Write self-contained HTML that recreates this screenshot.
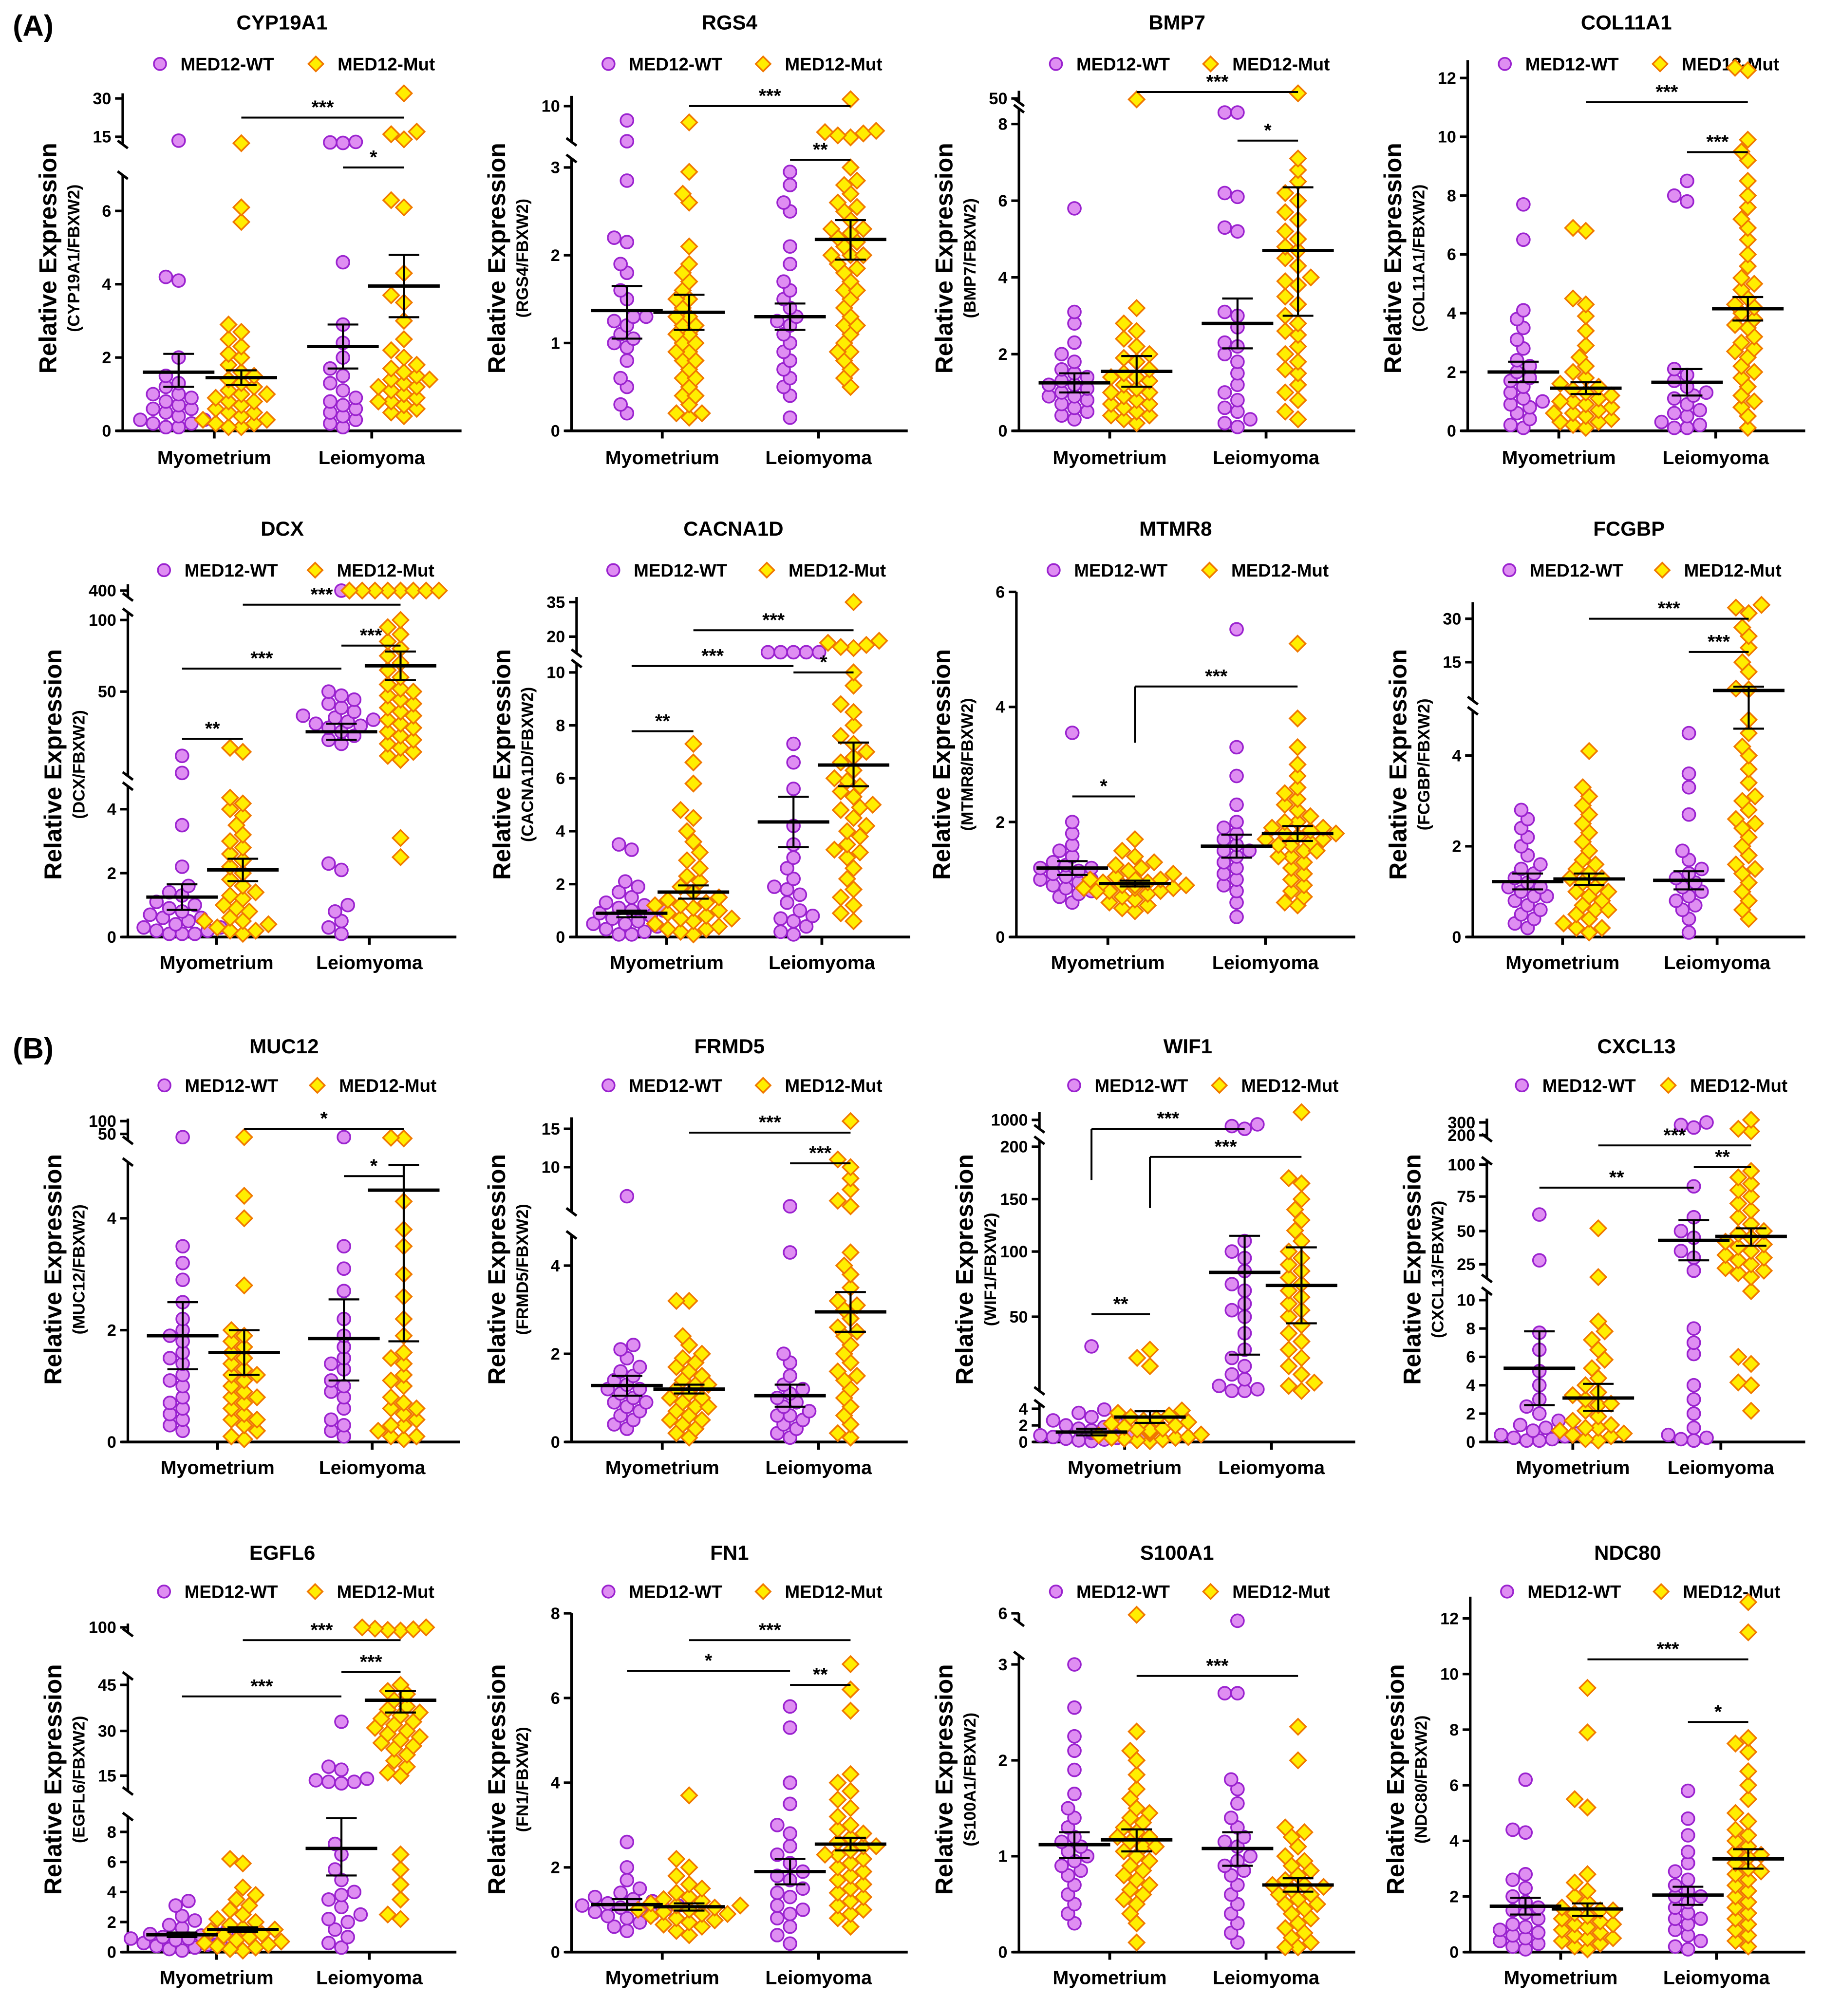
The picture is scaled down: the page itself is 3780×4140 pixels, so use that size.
<!DOCTYPE html>
<html><head><meta charset="utf-8">
<style>
html,body{margin:0;padding:0;background:#fff;}
svg{display:block;}
text{font-family:"Liberation Sans",Arial,sans-serif;fill:#000;}
</style></head>
<body>
<svg id="fig" xmlns="http://www.w3.org/2000/svg" width="3780" height="4140" viewBox="0 0 1440 1577" preserveAspectRatio="none">
<rect x="0" y="0" width="1440" height="1577" fill="#fff"/>
<text x="10" y="28" font-size="23" font-weight="bold">(A)</text>
<text x="10" y="828" font-size="23" font-weight="bold">(B)</text>
</svg>
<script>
// ===== DATA =====
const CYP19A1_WT_MYO=[13.5,4.2,4.1,2.0,1.5,1.3,1.2,1.0,0.9,0.8,0.7,0.6,0.5,0.4,0.3,0.2,0.1,1.0,0.6,0.3,0.2,0.1];
const CYP19A1_MUT_MYO=[12.5,6.1,5.7,2.9,2.7,2.5,2.3,2.1,2.0,1.8,1.6,1.5,1.4,1.3,1.2,1.1,1.0,0.9,0.8,0.7,0.6,0.5,0.4,0.3,0.2,0.1,1.0,0.8,0.5,0.3,0.2,0.1];
const CYP19A1_WT_LEIO=[13,12.8,12.6,4.6,2.9,2.4,2.0,1.7,1.5,1.3,1.1,0.9,0.8,0.6,0.5,0.3,0.2,0.1,0.4,0.7];
const CYP19A1_MUT_LEIO=[32,17,16,14,6.3,6.1,4.3,3.7,3.5,3.0,2.5,2.2,2.0,1.8,1.6,1.5,1.4,1.3,1.2,1.1,1.0,0.9,0.8,0.7,0.6,0.5,0.4,1.7,1.4,1.2,0.8];
const CYP19A1_MEAN=[1.6,1.45,2.3,3.95], CYP19A1_LO=[1.2,1.25,1.7,3.1], CYP19A1_HI=[2.1,1.65,2.9,4.8];
const CYP19A1_TICKS=[0,2,4,6,15,30];

const RGS4_WT_MYO=[7.8,4.6,2.85,2.2,2.15,1.9,1.8,1.6,1.5,1.3,1.25,1.2,1.1,1.0,0.95,0.8,0.6,0.5,0.3,0.2,1.3,1.05];
const RGS4_MUT_MYO=[7.5,2.95,2.7,2.6,2.1,1.9,1.8,1.7,1.6,1.5,1.5,1.4,1.3,1.3,1.2,1.1,1.0,1.0,0.9,0.8,0.8,0.7,0.6,0.5,0.4,0.3,0.2,0.15,1.2,1.1,0.9,0.6,0.4,0.2];
const RGS4_WT_LEIO=[2.95,2.8,2.6,2.5,2.1,1.9,1.7,1.6,1.5,1.3,1.25,1.2,1.0,0.9,0.8,0.7,0.6,0.5,0.4,0.15,1.4,1.1];
const RGS4_MUT_LEIO=[11,6.2,6.0,5.8,5.5,5.2,3.0,2.85,2.8,2.7,2.6,2.55,2.5,2.4,2.3,2.25,2.2,2.15,2.1,2.0,2.0,1.9,1.85,1.8,1.7,1.6,1.5,1.4,1.3,1.2,1.1,1.0,0.9,0.8,0.7,0.6,0.5,2.3,2.0,1.6,1.2,0.9];
const RGS4_MEAN=[1.37,1.35,1.3,2.18], RGS4_LO=[1.05,1.15,1.15,1.95], RGS4_HI=[1.65,1.55,1.45,2.4];
const RGS4_TICKS=[0,1,2,3,10];

const BMP7_WT_MYO=[5.8,3.1,2.8,2.3,2.0,1.8,1.6,1.5,1.4,1.3,1.2,1.1,1.0,0.9,0.8,0.7,0.6,0.5,0.4,0.3,1.2,0.9];
const BMP7_MUT_MYO=[49.5,3.2,2.8,2.6,2.4,2.2,2.0,1.9,1.8,1.6,1.5,1.4,1.3,1.2,1.1,1.0,0.9,0.8,0.7,0.6,0.5,0.4,0.3,0.2,1.4,1.0,0.7,0.4];
const BMP7_WT_LEIO=[8.3,8.3,6.2,6.1,5.3,5.2,3.1,3.0,2.7,2.3,2.0,1.8,1.5,1.2,1.0,0.8,0.5,0.3,0.2,0.1,2.2,0.6];
const BMP7_MUT_LEIO=[52,7.1,6.8,6.5,6.2,6.0,5.7,5.5,5.2,5.0,4.8,4.5,4.3,4.0,3.8,3.5,3.3,3.0,2.8,2.5,2.2,2.0,1.8,1.5,1.2,1.0,0.8,0.5,0.3,4.7,3.9,2.6,1.6];
const BMP7_MEAN=[1.25,1.55,2.8,4.7], BMP7_LO=[1.0,1.15,2.15,3.0], BMP7_HI=[1.5,1.95,3.45,6.35];
const BMP7_TICKS=[0,2,4,6,8,50];

const COL11A1_WT_MYO=[7.7,6.5,4.1,3.8,3.5,3.1,2.8,2.4,2.2,2.0,1.8,1.5,1.3,1.1,1.0,0.8,0.6,0.4,0.2,0.1,1.7,0.9];
const COL11A1_MUT_MYO=[6.8,6.9,4.5,4.3,3.9,3.4,2.9,2.5,2.2,2.0,1.8,1.6,1.5,1.4,1.3,1.2,1.1,1.0,0.9,0.8,0.7,0.6,0.5,0.4,0.3,0.2,0.1,1.0,0.6,0.3];
const COL11A1_WT_LEIO=[8.5,8.0,7.8,2.1,1.9,1.7,1.5,1.3,1.1,0.9,0.7,0.5,0.3,0.2,0.1,0.1,1.2,0.6];
const COL11A1_MUT_LEIO=[12.4,12.3,9.9,9.5,9.2,8.5,8.0,7.6,7.2,6.9,6.5,6.0,5.6,5.2,5.0,4.8,4.5,4.2,4.0,3.8,3.5,3.2,3.0,2.8,2.5,2.2,2.0,1.8,1.5,1.2,1.0,0.8,0.5,0.1,4.3,3.6,2.7];
const COL11A1_MEAN=[2.0,1.45,1.65,4.15], COL11A1_LO=[1.65,1.25,1.2,3.75], COL11A1_HI=[2.35,1.65,2.1,4.55];
const COL11A1_TICKS=[0,2,4,6,8,10,12];

const DCX_WT_MYO=[18,9.5,3.5,2.2,1.6,1.3,1.1,1.0,0.9,0.8,0.7,0.6,0.5,0.4,0.3,0.2,0.1,0.1,1.4,0.6,0.3,0.2,0.1];
const DCX_MUT_MYO=[22,20,4.4,4.2,4.0,3.8,3.5,3.2,3.0,2.8,2.6,2.4,2.2,2.0,1.8,1.6,1.4,1.2,1.0,0.8,0.6,0.5,0.4,0.3,0.2,0.1,1.3,0.9,0.5,0.2];
const DCX_WT_LEIO=[400,50,48,46,44,42,40,38,37,36,35,34,33,32,30,28,26,24,2.3,2.1,1.0,0.8,0.5,0.3,0.1];
const DCX_MUT_LEIO=[400,400,400,400,400,400,400,400,100,95,90,85,80,75,70,65,60,55,52,50,48,46,44,42,40,38,36,34,32,30,28,26,24,22,20,18,16,3.1,2.5];
const DCX_MEAN=[1.25,2.1,30,68], DCX_LO=[0.85,1.75,26,58], DCX_HI=[1.65,2.45,34,78];
const DCX_TICKS=[0,2,4,50,100,400];

const CACNA1D_WT_MYO=[3.5,3.3,2.1,1.9,1.7,1.5,1.3,1.2,1.1,1.0,0.9,0.8,0.7,0.6,0.5,0.4,0.3,0.2,0.1,0.1,1.0,0.5];
const CACNA1D_MUT_MYO=[7.3,6.6,5.8,4.8,4.5,4.0,3.6,3.2,2.9,2.6,2.3,2.1,1.9,1.7,1.5,1.4,1.3,1.2,1.1,1.0,0.9,0.8,0.7,0.6,0.5,0.4,0.3,0.2,0.1,1.2,0.7,0.3];
const CACNA1D_WT_LEIO=[12.5,12.5,12.5,12.5,12.5,7.3,6.6,5.6,4.2,3.5,3.0,2.6,2.2,1.9,1.6,1.3,1.0,0.8,0.6,0.4,0.2,0.1,1.8,0.7];
const CACNA1D_MUT_LEIO=[35,18,17,16,15,14.5,10,9.5,8.8,8.5,8.0,7.6,7.3,7.0,6.8,6.6,6.3,6.0,5.7,5.5,5.3,5.0,4.8,4.5,4.2,4.0,3.8,3.5,3.2,3.0,2.6,2.2,1.8,1.5,1.2,0.9,0.6,5.9,4.9,3.3];
const CACNA1D_MEAN=[0.9,1.7,4.35,6.5], CACNA1D_LO=[0.75,1.45,3.4,5.7], CACNA1D_HI=[1.0,1.95,5.3,7.35];
const CACNA1D_TICKS=[0,2,4,6,8,10,20,35];

const MTMR8_WT_MYO=[3.55,2.0,1.8,1.6,1.5,1.4,1.3,1.25,1.2,1.15,1.1,1.05,1.0,0.95,0.9,0.85,0.8,0.75,0.7,0.6,1.2,1.0];
const MTMR8_MUT_MYO=[1.7,1.5,1.4,1.3,1.25,1.2,1.15,1.1,1.05,1.0,1.0,0.95,0.95,0.9,0.9,0.85,0.85,0.8,0.8,0.75,0.7,0.65,0.6,0.55,0.5,0.45,1.0,0.9,0.85,0.8];
const MTMR8_WT_LEIO=[5.35,3.3,2.8,2.3,2.0,1.9,1.8,1.7,1.6,1.5,1.4,1.3,1.2,1.1,1.0,0.9,0.8,0.6,0.35,1.5];
const MTMR8_MUT_LEIO=[5.1,3.8,3.3,3.0,2.8,2.6,2.5,2.4,2.3,2.2,2.1,2.0,2.0,1.9,1.9,1.8,1.8,1.7,1.7,1.6,1.6,1.5,1.5,1.4,1.4,1.3,1.2,1.1,1.0,0.9,0.8,0.7,0.6,0.55,1.85,1.75,1.65];
const MTMR8_MEAN=[1.2,0.93,1.58,1.8], MTMR8_LO=[1.08,0.88,1.38,1.67], MTMR8_HI=[1.32,0.98,1.78,1.93];
const MTMR8_TICKS=[0,2,4,6];

const FCGBP_WT_MYO=[2.8,2.6,2.4,2.2,2.0,1.8,1.6,1.5,1.4,1.3,1.2,1.1,1.0,0.9,0.8,0.7,0.6,0.5,0.4,0.3,0.2,1.1,0.9];
const FCGBP_MUT_MYO=[4.1,3.3,3.1,2.9,2.7,2.5,2.3,2.1,1.9,1.7,1.6,1.5,1.4,1.3,1.2,1.1,1.0,0.9,0.8,0.7,0.6,0.5,0.4,0.3,0.2,0.1,1.3,1.0,0.6,0.2];
const FCGBP_WT_LEIO=[4.5,3.6,3.3,2.7,1.9,1.7,1.5,1.3,1.2,1.1,1.0,0.9,0.8,0.6,0.4,0.1,1.4,0.7];
const FCGBP_MUT_LEIO=[35,34,32,27,24,20,15,13,9.5,9.3,4.8,4.5,4.2,4.0,3.7,3.4,3.1,2.8,2.6,2.4,2.2,2.0,1.8,1.6,1.4,1.2,1.0,0.8,0.6,0.4,3.0,2.5,1.5];
const FCGBP_MEAN=[1.22,1.28,1.25,9.1], FCGBP_LO=[1.05,1.15,1.05,4.6], FCGBP_HI=[1.4,1.4,1.45,9.9];
const FCGBP_TICKS=[0,2,4,15,30];

const MUC12_WT_MYO=[45,3.5,3.2,2.9,2.5,2.2,2.0,1.8,1.6,1.4,1.2,1.0,0.8,0.6,0.5,0.4,0.3,1.9,1.5,1.1,0.7,0.2];
const MUC12_MUT_MYO=[45,4.4,4.0,2.8,2.0,1.9,1.8,1.7,1.6,1.5,1.4,1.3,1.2,1.1,1.0,0.9,0.8,0.7,0.6,0.5,0.4,0.3,0.2,0.1,0.05,1.2,0.8,0.4];
const MUC12_WT_LEIO=[45,3.5,3.1,2.7,2.2,1.9,1.7,1.5,1.3,1.1,1.0,0.8,0.6,0.4,0.3,0.2,0.1,1.4,0.9];
const MUC12_MUT_LEIO=[44,43,4.3,3.8,3.5,3.0,2.6,2.2,1.9,1.6,1.4,1.2,1.0,0.8,0.7,0.6,0.5,0.4,0.3,0.2,0.1,0.05,1.5,1.1,0.6,0.3,0.1];
const MUC12_MEAN=[1.9,1.6,1.85,4.5], MUC12_LO=[1.3,1.2,1.1,1.8], MUC12_HI=[2.5,2.0,2.55,4.95];
const MUC12_TICKS=[0,2,4,50,100];

const FRMD5_WT_MYO=[7.4,2.2,2.1,1.9,1.7,1.5,1.4,1.3,1.2,1.1,1.0,0.9,0.8,0.7,0.6,0.5,0.4,0.3,1.6,1.2,0.9];
const FRMD5_MUT_MYO=[3.2,3.2,2.4,2.2,2.0,1.9,1.8,1.7,1.6,1.5,1.4,1.3,1.2,1.1,1.0,0.9,0.8,0.7,0.6,0.5,0.4,0.3,0.2,0.1,1.3,1.0,0.8,0.5];
const FRMD5_WT_LEIO=[6.5,4.3,2.0,1.8,1.5,1.3,1.1,1.0,0.9,0.8,0.7,0.6,0.5,0.4,0.3,0.2,0.1,1.2,0.6];
const FRMD5_MUT_LEIO=[16,11,10,9,8,7,6.5,4.3,4.0,3.8,3.5,3.2,3.0,2.8,2.6,2.4,2.2,2.0,1.8,1.6,1.4,1.2,1.0,0.8,0.6,0.4,0.2,0.1,3.1,2.5,1.5];
const FRMD5_MEAN=[1.28,1.2,1.05,2.95], FRMD5_LO=[1.05,1.1,0.8,2.5], FRMD5_HI=[1.5,1.3,1.3,3.4];
const FRMD5_TICKS=[0,2,4,10,15];

const WIF1_WT_MYO=[32,3.9,3.5,3.0,2.6,2.2,2.0,1.8,1.6,1.4,1.2,1.0,0.8,0.6,0.5,0.4,0.3,0.2,0.1,1.1,0.7];
const WIF1_MUT_MYO=[30,25,20,3.8,3.5,3.2,3.0,2.8,2.6,2.4,2.2,2.0,1.8,1.6,1.4,1.2,1.0,0.8,0.6,0.5,0.4,0.3,0.2,0.1,1.5,0.9,0.5];
const WIF1_WT_LEIO=[950,930,900,110,100,95,85,75,70,60,55,50,40,30,25,20,15,12,8,6,5,5];
const WIF1_MUT_LEIO=[1100,170,165,150,140,130,120,110,100,95,90,85,80,75,70,65,60,55,50,45,40,35,30,25,20,15,10,8,5];
const WIF1_MEAN=[1.2,3.0,84,74], WIF1_LO=[0.8,2.3,27,46], WIF1_HI=[1.6,3.7,115,104];
const WIF1_TICKS=[0,2,4,50,100,150,200,1000];

const CXCL13_WT_MYO=[62,28,7.7,6.5,5.0,4.0,3.0,2.5,2.0,1.5,1.2,1.0,0.8,0.6,0.4,0.2,0.1,0.5,0.3,0.1];
const CXCL13_MUT_MYO=[52,15,8.5,7.8,7.2,6.5,5.8,5.2,4.5,4.0,3.5,3.0,2.6,2.2,1.8,1.5,1.2,1.0,0.8,0.6,0.4,0.2,0.1,3.3,2.7,1.0,0.5];
const CXCL13_WT_LEIO=[300,280,260,83,60,50,45,35,30,20,8,7,6.2,4,3,2,1,0.5,0.3,0.2,0.1];
const CXCL13_MUT_LEIO=[320,250,230,95,90,85,80,75,70,65,60,55,50,48,45,42,40,38,35,32,30,28,25,22,20,18,15,12,6,5.5,4.2,4.0,2.2];
const CXCL13_MEAN=[5.2,3.1,43,46], CXCL13_LO=[2.6,2.2,28,39], CXCL13_HI=[7.8,4.1,58,52];
const CXCL13_TICKS=[0,2,4,6,8,10,25,50,75,100,200,300];

const EGFL6_WT_MYO=[3.4,3.1,2.4,2.1,1.8,1.6,1.4,1.2,1.1,1.0,0.9,0.8,0.7,0.6,0.5,0.4,0.3,0.2,0.1,1.3,0.9];
const EGFL6_MUT_MYO=[6.2,5.9,4.3,3.8,3.5,3.1,2.8,2.5,2.2,2.0,1.8,1.6,1.4,1.2,1.0,0.8,0.6,0.5,0.4,0.3,0.2,0.1,1.5,1.1,0.7];
const EGFL6_WT_LEIO=[33,18,17,14,13.5,13,13,12.5,7.2,6.5,5.5,4.8,4.0,3.5,3.0,2.5,2.0,1.5,1.0,0.6,0.3,3.8,2.2];
const EGFL6_MUT_LEIO=[100,100,98,97,96,95,45,43,42,40,38,37,36,35,34,33,32,31,30,29,28,27,26,25,24,22,20,18,16,15,6.5,5.5,4.5,3.5,2.5,2.2];
const EGFL6_MEAN=[1.15,1.5,6.9,40], EGFL6_LO=[1.0,1.35,5.1,36], EGFL6_HI=[1.3,1.65,8.9,43];
const EGFL6_TICKS=[0,2,4,6,8,15,30,45,100];

const FN1_WT_MYO=[2.6,2.0,1.7,1.5,1.4,1.3,1.25,1.2,1.15,1.1,1.05,1.0,0.95,0.9,0.85,0.8,0.7,0.6,0.5,1.1,1.0];
const FN1_MUT_MYO=[3.7,2.2,2.0,1.8,1.6,1.5,1.4,1.3,1.25,1.2,1.15,1.1,1.05,1.0,0.95,0.9,0.85,0.8,0.75,0.7,0.65,0.6,0.5,0.4,1.1,1.0,0.9];
const FN1_WT_LEIO=[5.8,5.3,4.0,3.5,3.0,2.8,2.5,2.3,2.1,1.9,1.7,1.5,1.3,1.1,1.0,0.9,0.8,0.6,0.4,0.2,1.8,1.4];
const FN1_MUT_LEIO=[6.8,6.2,5.7,4.2,4.0,3.8,3.6,3.4,3.2,3.0,2.9,2.8,2.7,2.6,2.5,2.4,2.3,2.2,2.1,2.0,1.9,1.8,1.7,1.6,1.5,1.4,1.3,1.2,1.1,1.0,0.9,0.8,0.6,2.5,2.3];
const FN1_MEAN=[1.12,1.07,1.9,2.55], FN1_LO=[1.0,0.98,1.6,2.4], FN1_HI=[1.25,1.15,2.2,2.7];
const FN1_TICKS=[0,2,4,6,8];

const S100A1_WT_MYO=[3.0,2.55,2.25,2.1,1.9,1.65,1.5,1.4,1.3,1.2,1.15,1.1,1.05,1.0,0.95,0.9,0.85,0.8,0.7,0.6,0.5,0.4,0.3];
const S100A1_MUT_MYO=[5.9,2.3,2.1,2.0,1.85,1.7,1.6,1.5,1.45,1.4,1.35,1.3,1.25,1.2,1.15,1.1,1.05,1.0,0.95,0.9,0.85,0.8,0.75,0.7,0.65,0.6,0.55,0.5,0.4,0.3,0.1,1.2,1.1];
const S100A1_WT_LEIO=[5.5,2.7,2.7,1.8,1.7,1.55,1.4,1.3,1.2,1.1,1.0,0.95,0.9,0.8,0.7,0.6,0.5,0.4,0.3,0.2,0.1,1.15,0.85];
const S100A1_MUT_LEIO=[2.35,2.0,1.3,1.25,1.2,1.1,1.0,0.95,0.9,0.85,0.8,0.75,0.7,0.68,0.65,0.6,0.55,0.5,0.45,0.4,0.35,0.3,0.25,0.2,0.15,0.1,0.05,0.05,0.7,0.6,0.5];
const S100A1_MEAN=[1.12,1.17,1.08,0.7], S100A1_LO=[0.98,1.05,0.9,0.63], S100A1_HI=[1.25,1.28,1.25,0.77];
const S100A1_TICKS=[0,1,2,3,6];

const NDC80_WT_MYO=[6.2,4.4,4.3,2.8,2.6,2.3,2.0,1.8,1.6,1.4,1.2,1.0,0.9,0.8,0.6,0.5,0.4,0.3,0.2,0.1,1.5,0.7];
const NDC80_MUT_MYO=[9.5,7.9,5.5,5.2,2.8,2.5,2.2,2.0,1.8,1.6,1.5,1.4,1.3,1.2,1.1,1.0,0.9,0.8,0.7,0.6,0.5,0.4,0.3,0.2,0.1,1.5,1.0,0.5];
const NDC80_WT_LEIO=[5.8,4.8,4.2,3.6,3.2,2.9,2.6,2.4,2.2,2.0,1.8,1.6,1.4,1.2,1.0,0.8,0.6,0.4,0.2,0.1,2.0,1.2];
const NDC80_MUT_LEIO=[12.6,11.5,7.7,7.5,7.2,6.5,6.0,5.5,5.0,4.7,4.4,4.2,4.0,3.8,3.6,3.4,3.2,3.0,2.8,2.6,2.4,2.2,2.0,1.8,1.6,1.4,1.2,1.0,0.8,0.6,0.4,0.2,3.5,2.9];
const NDC80_MEAN=[1.65,1.55,2.05,3.35], NDC80_LO=[1.35,1.3,1.7,3.0], NDC80_HI=[1.95,1.75,2.35,3.7];
const NDC80_TICKS=[0,2,4,6,8,10,12];

// ===== LAYOUT / SCALES (knots: [value, pixel height above baseline]) =====
const ROW_BASE=[337,733,1128,1527], ROW_TITLE=[23,419,824,1220], ROW_LEG=[55,451,854,1250], ROW_XLAB=[363,758,1153,1552];
const PANELS=[
 {n:'CYP19A1',r:0,x0:96,x1:361,segs:[[[0,0],[6,172],[7,200]],[[12,224],[15,230],[30,260],[32,264]]],t:CYP19A1_TICKS,g:[CYP19A1_WT_MYO,CYP19A1_MUT_MYO,CYP19A1_WT_LEIO,CYP19A1_MUT_LEIO],m:CYP19A1_MEAN,lo:CYP19A1_LO,hi:CYP19A1_HI,sig:[[1,3,245,'***'],[2,3,206,'*']]},
 {n:'RGS4',r:0,x0:447,x1:710,segs:[[[0,0],[3,206],[3.1,213]],[[4.5,226],[10,254],[11.5,262]]],t:RGS4_TICKS,g:[RGS4_WT_MYO,RGS4_MUT_MYO,RGS4_WT_LEIO,RGS4_MUT_LEIO],m:RGS4_MEAN,lo:RGS4_LO,hi:RGS4_HI,sig:[[1,3,254,'***'],[2,3,212,'**']]},
 {n:'BMP7',r:0,x0:797,x1:1060,segs:[[[0,0],[8,240],[8.4,252]],[[48,257],[50,260],[53,266]]],t:BMP7_TICKS,g:[BMP7_WT_MYO,BMP7_MUT_MYO,BMP7_WT_LEIO,BMP7_MUT_LEIO],m:BMP7_MEAN,lo:BMP7_LO,hi:BMP7_HI,sig:[[1,3,265,'***'],[2,3,227,'*']]},
 {n:'COL11A1',r:0,x0:1148,x1:1412,segs:[[[0,0],[12,276],[12.7,290]]],t:COL11A1_TICKS,g:[COL11A1_WT_MYO,COL11A1_MUT_MYO,COL11A1_WT_LEIO,COL11A1_MUT_LEIO],m:COL11A1_MEAN,lo:COL11A1_LO,hi:COL11A1_HI,sig:[[1,3,257,'***'],[2,3,218,'***']]},
 {n:'DCX',r:1,x0:100,x1:357,segs:[[[0,0],[4,100],[4.8,118]],[[8,126],[50,192],[100,248],[110,254]],[[380,266],[400,271],[420,276]]],t:DCX_TICKS,g:[DCX_WT_MYO,DCX_MUT_MYO,DCX_WT_LEIO,DCX_MUT_LEIO],m:DCX_MEAN,lo:DCX_LO,hi:DCX_HI,sig:[[0,1,155,'**'],[0,2,210,'***'],[1,3,260,'***'],[2,3,228,'***']]},
 {n:'CACNA1D',r:1,x0:451,x1:712,segs:[[[0,0],[10,207],[11,214]],[[12,222],[20,235],[35,262],[37,266]]],t:CACNA1D_TICKS,g:[CACNA1D_WT_MYO,CACNA1D_MUT_MYO,CACNA1D_WT_LEIO,CACNA1D_MUT_LEIO],m:CACNA1D_MEAN,lo:CACNA1D_LO,hi:CACNA1D_HI,sig:[[0,1,161,'**'],[0,2,212,'***'],[1,3,240,'***'],[2,3,207,'*']]},
 {n:'MTMR8',r:1,x0:795,x1:1060,segs:[[[0,0],[6,270]]],t:MTMR8_TICKS,g:[MTMR8_WT_MYO,MTMR8_MUT_MYO,MTMR8_WT_LEIO,MTMR8_MUT_LEIO],m:MTMR8_MEAN,lo:MTMR8_LO,hi:MTMR8_HI,sig:[[0,1,110,'*'],[1,3,196,'***',44]]},
 {n:'FCGBP',r:1,x0:1152,x1:1412,segs:[[[0,0],[4,142],[5,177]],[[7,185],[15,215],[30,249],[36,262]]],t:FCGBP_TICKS,g:[FCGBP_WT_MYO,FCGBP_MUT_MYO,FCGBP_WT_LEIO,FCGBP_MUT_LEIO],m:FCGBP_MEAN,lo:FCGBP_LO,hi:FCGBP_HI,sig:[[1,3,249,'***'],[2,3,223,'***']]},
 {n:'MUC12',r:2,x0:100,x1:360,segs:[[[0,0],[4,175],[5,219]],[[40,236],[50,241],[100,251],[105,253]]],t:MUC12_TICKS,g:[MUC12_WT_MYO,MUC12_MUT_MYO,MUC12_WT_LEIO,MUC12_MUT_LEIO],m:MUC12_MEAN,lo:MUC12_LO,hi:MUC12_HI,sig:[[1,3,245,'*'],[2,3,208,'*']]},
 {n:'FRMD5',r:2,x0:447,x1:710,segs:[[[0,0],[4,138],[4.7,162]],[[6,180],[10,215],[15,245],[16.5,254]]],t:FRMD5_TICKS,g:[FRMD5_WT_MYO,FRMD5_MUT_MYO,FRMD5_WT_LEIO,FRMD5_MUT_LEIO],m:FRMD5_MEAN,lo:FRMD5_LO,hi:FRMD5_HI,sig:[[1,3,242,'***'],[2,3,218,'***']]},
 {n:'WIF1',r:2,x0:813,x1:1060,segs:[[[0,0],[4,26],[4.6,30]],[[5,40],[50,98],[100,149],[150,190],[200,231],[210,236]],[[900,245],[1000,252],[1100,258]]],t:WIF1_TICKS,g:[WIF1_WT_MYO,WIF1_MUT_MYO,WIF1_WT_LEIO,WIF1_MUT_LEIO],m:WIF1_MEAN,lo:WIF1_LO,hi:WIF1_HI,sig:[[0,2,245,'***',40],[1,3,223,'***',40],[0,1,100,'**']]},
 {n:'CXCL13',r:2,x0:1163,x1:1412,segs:[[[0,0],[10,111],[11,118]],[[14,128],[25,139],[50,165],[75,192],[100,217],[103,220]],[[190,238],[200,240],[300,250],[330,253]]],t:CXCL13_TICKS,g:[CXCL13_WT_MYO,CXCL13_MUT_MYO,CXCL13_WT_LEIO,CXCL13_MUT_LEIO],m:CXCL13_MEAN,lo:CXCL13_LO,hi:CXCL13_HI,sig:[[0,2,199,'**'],[1,3,232,'***'],[2,3,215,'**']]},
 {n:'EGFL6',r:3,x0:100,x1:357,segs:[[[0,0],[8,94],[9,106]],[[10,126],[15,138],[30,173],[45,209],[48,216]],[[92,250],[100,254],[105,257]]],t:EGFL6_TICKS,g:[EGFL6_WT_MYO,EGFL6_MUT_MYO,EGFL6_WT_LEIO,EGFL6_MUT_LEIO],m:EGFL6_MEAN,lo:EGFL6_LO,hi:EGFL6_HI,sig:[[0,2,200,'***'],[1,3,244,'***'],[2,3,219,'***']]},
 {n:'FN1',r:3,x0:447,x1:710,segs:[[[0,0],[8,265]]],t:FN1_TICKS,g:[FN1_WT_MYO,FN1_MUT_MYO,FN1_WT_LEIO,FN1_MUT_LEIO],m:FN1_MEAN,lo:FN1_LO,hi:FN1_HI,sig:[[0,2,220,'*'],[1,3,244,'***'],[2,3,209,'**']]},
 {n:'S100A1',r:3,x0:797,x1:1060,segs:[[[0,0],[3,225],[3.1,232]],[[5.4,258],[6,265]]],t:S100A1_TICKS,g:[S100A1_WT_MYO,S100A1_MUT_MYO,S100A1_WT_LEIO,S100A1_MUT_LEIO],m:S100A1_MEAN,lo:S100A1_LO,hi:S100A1_HI,sig:[[1,3,216,'***']]},
 {n:'NDC80',r:3,x0:1150,x1:1412,segs:[[[0,0],[12,261],[12.8,278]]],t:NDC80_TICKS,g:[NDC80_WT_MYO,NDC80_MUT_MYO,NDC80_WT_LEIO,NDC80_MUT_LEIO],m:NDC80_MEAN,lo:NDC80_LO,hi:NDC80_HI,sig:[[1,3,229,'***'],[2,3,180,'*']]}
];
const GROUP_FRAC=[0.165,0.35,0.65,0.83];
const GROUP_NAMES=['wt-myometrium','mut-myometrium','wt-leiomyoma','mut-leiomyoma'];
const WT_FILL='#df8ef2', WT_STROKE='#9a22cf', MUT_FILL='#ffee00', MUT_STROKE='#f07800';

const NS='http://www.w3.org/2000/svg';
const svg=document.getElementById('fig');
function el(tag,attrs,parent,txt){const e=document.createElementNS(NS,tag);for(const k in attrs)e.setAttribute(k,attrs[k]);if(txt!==undefined)e.textContent=txt;(parent||svg).appendChild(e);return e;}

function heightOf(segs,v){
  let best=null;
  for(const s of segs){ if(v>=s[0][0]&&v<=s[s.length-1][0]){best=s;break;} }
  if(!best){
    let d=Infinity;
    for(const s of segs){const lo=s[0][0],hi=s[s.length-1][0];const dd=v<lo?lo-v:v-hi;if(dd<d){d=dd;best=s;}}
    if(v<best[0][0]) return best[0][1];
    return best[best.length-1][1];
  }
  for(let i=0;i<best.length-1;i++){const a=best[i],b=best[i+1];if(v>=a[0]&&v<=b[0]){return a[1]+(v-a[0])/(b[0]-a[0])*(b[1]-a[1]);}}
  return best[best.length-1][1];
}

function circle(g,x,y,r){return el('circle',{cx:x,cy:y,r:r,fill:WT_FILL,stroke:WT_STROKE,'stroke-width':1.3},g);}
function diamond(g,x,y,r){return el('polygon',{points:`${x},${y-r} ${x+r},${y} ${x},${y+r} ${x-r},${y}`,fill:MUT_FILL,stroke:MUT_STROKE,'stroke-width':1.3},g);}

PANELS.forEach((P)=>{
  const base=ROW_BASE[P.r];
  const yOf=v=>base-heightOf(P.segs,v);
  const W=P.x1-P.x0;
  const gx=i=>P.x0+GROUP_FRAC[i]*W;
  const key=P.n.toLowerCase();
  const pg=el('g',{});
  
  
  const cx=P.x0+0.47*W;

  const tt=el('text',{x:cx,y:ROW_TITLE[P.r],'font-size':16,'font-weight':'bold','text-anchor':'middle'},pg,P.n);
  
  

  const lg=el('g',{},pg);
  
  
  const ly=ROW_LEG[P.r];
  const lx=P.x0+0.11*W;
  const lc=circle(lg,lx,ly-5,4.8);
  
  
  const lt1=el('text',{x:lx+16,y:ly,'font-size':14,'font-weight':'bold'},lg,'MED12-WT');
  
  
  const ld=diamond(lg,lx+0.46*W,ly-5,5.8);
  
  
  const lt2=el('text',{x:lx+0.46*W+17,y:ly,'font-size':14,'font-weight':'bold'},lg,'MED12-Mut');
  
  

  const midY=base-135;
  const yt=el('text',{x:0,y:0,'font-size':19,'font-weight':'bold','text-anchor':'middle',transform:`translate(${P.x0-52},${midY}) rotate(-90)`},pg,'Relative Expression');
  
  
  const ys=el('text',{x:0,y:0,'font-size':13,'font-weight':'bold','text-anchor':'middle',transform:`translate(${P.x0-34},${midY}) rotate(-90)`},pg,'('+P.n+'/FBXW2)');
  
  

  const ax=el('g',{stroke:'#000','stroke-width':2,fill:'none'},pg);
  
  
  P.segs.forEach((s,i)=>{
    const yb=base-s[0][1], yt2=base-s[s.length-1][1];
    el('line',{x1:P.x0,y1:yb+(i===0?1:0),x2:P.x0,y2:yt2},ax);
    if(i>0){ el('line',{x1:P.x0-4,y1:yb-3,x2:P.x0+4,y2:yb+3},ax); }
    if(i<P.segs.length-1){ el('line',{x1:P.x0-4,y1:yt2-3,x2:P.x0+4,y2:yt2+3},ax); }
  });
  P.t.forEach(v=>{
    const y=yOf(v);
    el('line',{x1:P.x0-6,y1:y,x2:P.x0,y2:y,stroke:'#000','stroke-width':2},ax);
    const tl=el('text',{x:P.x0-9,y:y+4.5,'font-size':13,'font-weight':'bold','text-anchor':'end',stroke:'none',fill:'#000'},ax,String(v));
    
    
  });
  const xa=el('g',{stroke:'#000','stroke-width':2.2},pg);
  
  
  el('line',{x1:P.x0-5,y1:base,x2:P.x1,y2:base},xa);
  const c1=P.x0+0.27*W, c2=P.x0+0.735*W;
  el('line',{x1:c1,y1:base,x2:c1,y2:base+6},xa);
  el('line',{x1:c2,y1:base,x2:c2,y2:base+6},xa);
  const xl1=el('text',{x:c1,y:ROW_XLAB[P.r],'font-size':15,'font-weight':'bold','text-anchor':'middle',stroke:'none'},xa,'Myometrium');
  
  
  const xl2=el('text',{x:c2,y:ROW_XLAB[P.r],'font-size':15,'font-weight':'bold','text-anchor':'middle',stroke:'none'},xa,'Leiomyoma');
  
  

  P.g.forEach((vals,gi)=>{
    const gg=el('g',{},pg);
    
    
    const pts=vals.map(v=>({v:v,y:yOf(v)})).sort((a,b)=>b.y-a.y);
    const placed=[];
    const offs=[0,-5,5,-10,10,-15,15,-20,20,-25,25,-30,30,-35,35,-40,40];
    const mc=gx(gi);
    pts.forEach(p=>{
      let xx=mc;
      for(const o of offs){const x=mc+o;let ok=true;for(const q of placed){if((q.x-x)*(q.x-x)+(q.y-p.y)*(q.y-p.y)<70){ok=false;break;}}if(ok){xx=x;break;}}
      placed.push({x:xx,y:p.y});
      const mk=(gi%2===0)?circle(gg,xx,p.y,5):diamond(gg,xx,p.y,6.2);
      
      
    });
  });
  P.m.forEach((mv,gi)=>{
    const x=gx(gi);
    const eg=el('g',{stroke:'#000'},pg);
    
    
    const ym=yOf(mv), yl=yOf(P.lo[gi]), yh=yOf(P.hi[gi]);
    el('line',{x1:x,y1:yl,x2:x,y2:yh,'stroke-width':1.6},eg);
    el('line',{x1:x-12,y1:yl,x2:x+12,y2:yl,'stroke-width':1.6},eg);
    el('line',{x1:x-12,y1:yh,x2:x+12,y2:yh,'stroke-width':1.6},eg);
    el('line',{x1:x-28,y1:ym,x2:x+28,y2:ym,'stroke-width':2.6},eg);
  });
  P.sig.forEach(s=>{
    const sg=el('g',{},pg);
    
    
    const xa1=gx(s[0]), xa2=gx(s[1]), y=base-s[2];
    el('line',{x1:xa1,y1:y,x2:xa2,y2:y,stroke:'#000','stroke-width':1.5},sg);
    if(s[4]) el('line',{x1:xa1,y1:y,x2:xa1,y2:y+s[4],stroke:'#000','stroke-width':1.5},sg);
    el('text',{x:(xa1+xa2)/2,y:y-3,'font-size':15,'font-weight':'bold','text-anchor':'middle'},sg,s[3]);
  });
});
</script>
</body></html>
